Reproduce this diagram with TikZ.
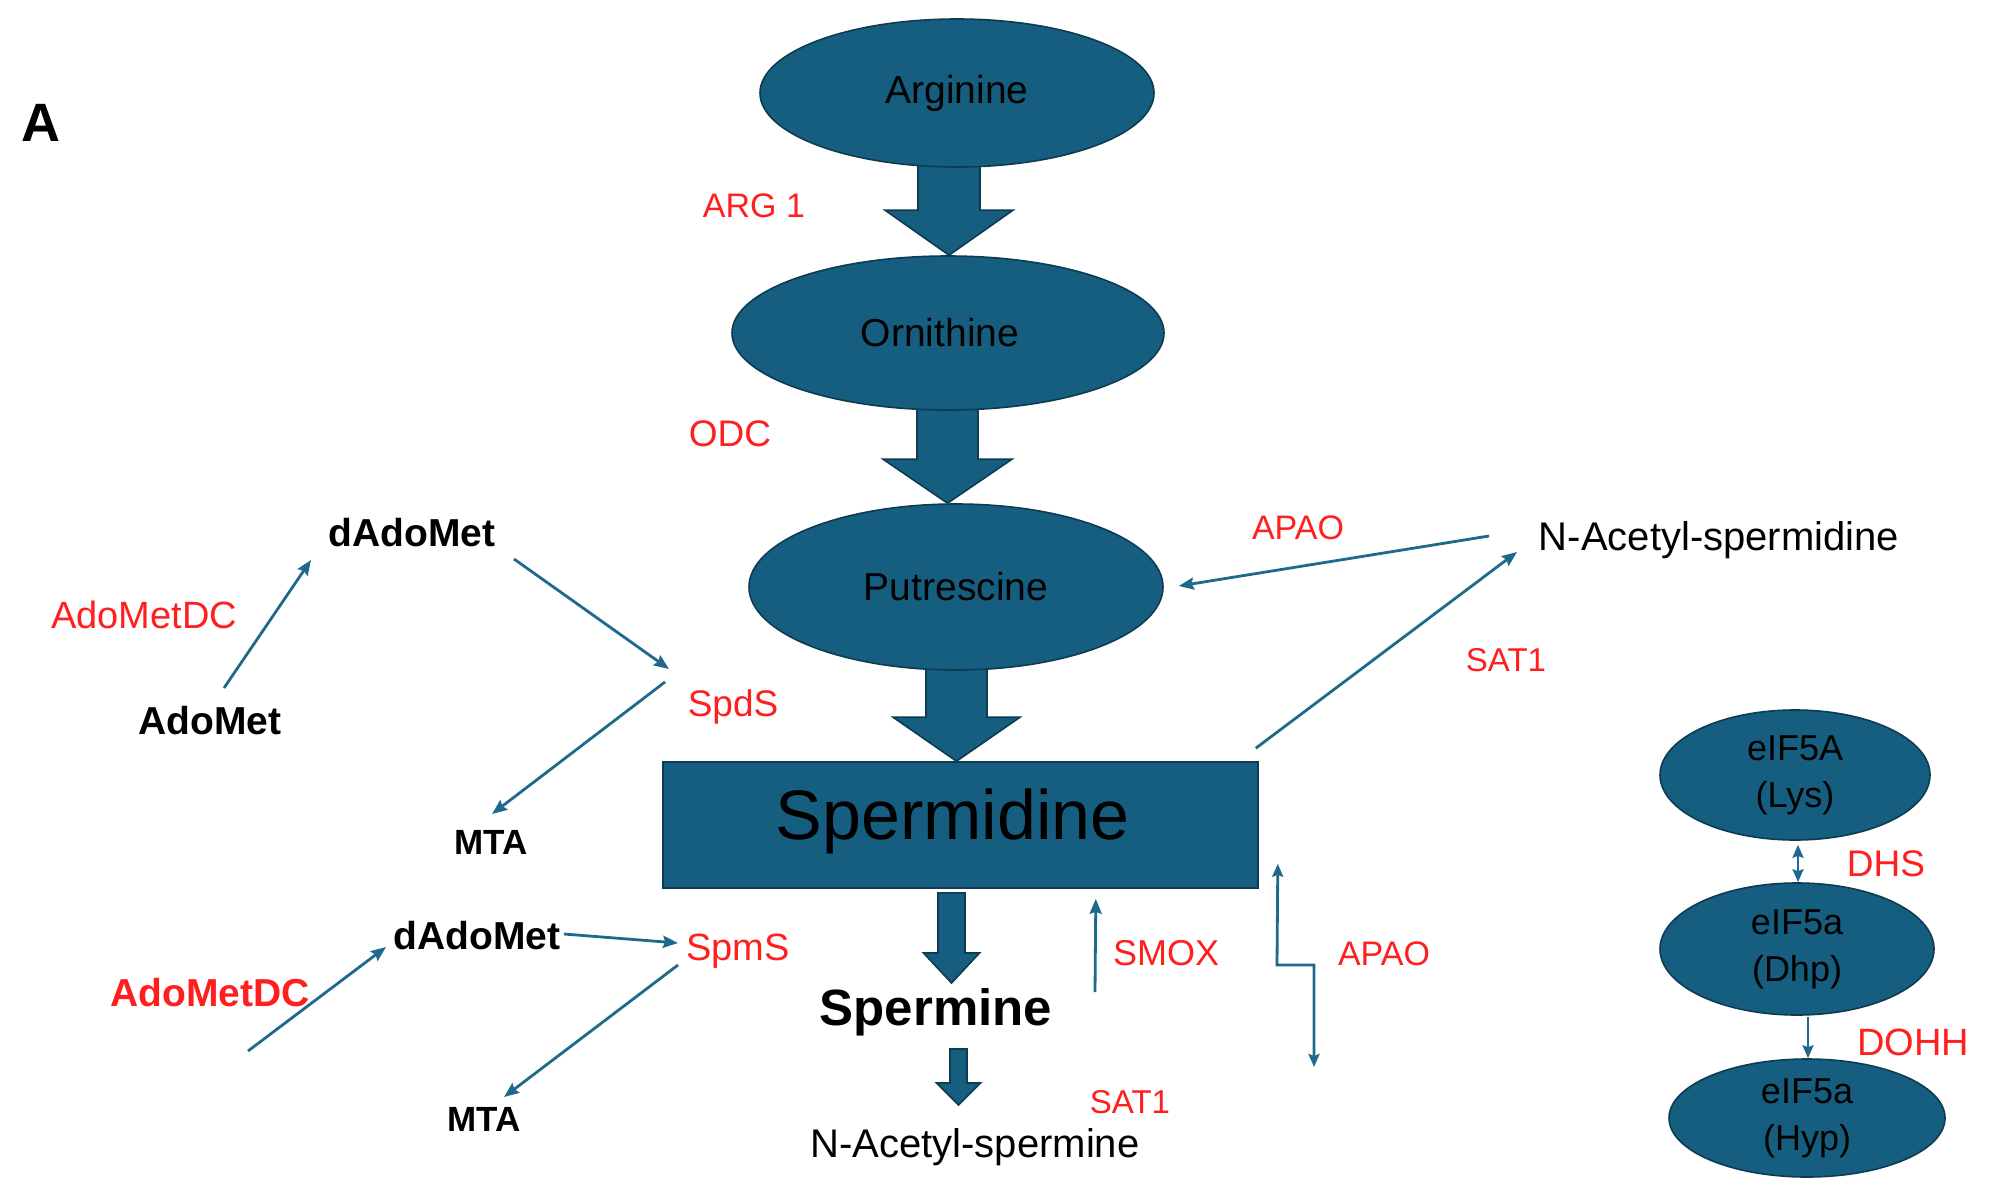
\documentclass[tikz,border=0pt]{standalone}
\usepackage{fontspec}
\setmainfont{Liberation Sans}
\usetikzlibrary{shapes.geometric,arrows.meta,calc}
\definecolor{mteal}{HTML}{165E80}
\definecolor{medge}{HTML}{0C3B52}
\definecolor{mline}{HTML}{1F6A8C}
\definecolor{mred}{HTML}{FF1F1F}
\pgfdeclarelayer{bg}
\pgfsetlayers{bg,main}
\newcommand{\myfs}[1]{\fontsize{#1}{#1}\selectfont}
\newcommand{\blkarrow}[6]{%
  \draw[blk] let \p1=#2, \p2=#3 in
    ({(#1-#4)*1pt},\y1) -- ({(#1-#4)*1pt},{\y2+#6*1pt})
    -- ({(#1-#5)*1pt},{\y2+#6*1pt}) -- ({#1*1pt},\y2)
    -- ({(#1+#5)*1pt},{\y2+#6*1pt}) -- ({(#1+#4)*1pt},{\y2+#6*1pt})
    -- ({(#1+#4)*1pt},\y1) -- cycle;}
\begin{document}
\begin{tikzpicture}[x=1pt,y=-1pt,
  ell/.style={ellipse, draw=medge, line width=1.6pt, fill=mteal, inner sep=0pt, text=black, font=\myfs{39}},
  eiftext/.style={font=\fontsize{36}{47}\selectfont, align=center},
  blk/.style={draw=medge, line width=1.6pt, fill=mteal, line join=miter},
  con/.style={draw=mline, line width=2.8pt},
  conarr/.style={con, -{Stealth[length=15pt,width=12pt,inset=2pt]}},
  conboth/.style={con, {Stealth[length=13pt,width=11pt,inset=2pt]}-{Stealth[length=13pt,width=11pt,inset=2pt]}},
  txt/.style={inner sep=0pt, font=\myfs{#1}, text height={#1*0.72pt}, text depth=0pt},
  rlab/.style={txt=#1, text=mred},
  blab/.style={txt=#1, font=\myfs{#1}\bfseries},
  nlab/.style={txt=#1, text=black}
]
\begin{pgfonlayer}{bg}
\fill[white] (0,0) rectangle (1991,1199);
\end{pgfonlayer}
\useasboundingbox (0,0) rectangle (1991,1199);

% panel label
\node[blab=54] (lblA) at (41,122) {A};

% main pathway
\node[ell, minimum width=394pt, minimum height=148pt] (arg) at (957,93) {Arginine};
\node[ell, minimum width=432pt, minimum height=154pt] (orn) at (948,333) {Ornithine\hspace*{16pt}};
\node[ell, minimum width=414pt, minimum height=166pt] (put) at (956,587) {Putrescine};
\node[draw=medge, line width=1.6pt, fill=mteal, minimum width=595pt, minimum height=126pt,
      inner sep=0pt, font=\myfs{70}, text height=50pt, text depth=22pt] (spd) at (960.5,825) {Spermidine\hspace*{16pt}};
\node[blab=51] (spm) at (936,1007) {Spermine};
\node[nlab=40] (nacspm) at (975,1143) {N-Acetyl-spermine};
\node[nlab=40] (nacspd) at (1719,536) {N-Acetyl-spermidine};

% enzyme labels
\node[rlab=34] (arg1) at (754,205) {ARG 1};
\node[rlab=37] (odc) at (730,433) {ODC};
\node[rlab=34] (apao1) at (1298,527) {APAO};
\node[rlab=33] (sat1a) at (1506,660) {SAT1};
\node[rlab=37] (spds) at (733,703) {SpdS};
\node[rlab=38] (spms) at (738,947) {SpmS};
\node[rlab=36] (smox) at (1166,953) {SMOX};
\node[rlab=34] (apao2) at (1384,953) {APAO};
\node[rlab=33] (sat1b) at (1130,1102) {SAT1};
\node[rlab=38] (adometdc1) at (144,615) {AdoMetDC};
\node[blab=39, text=mred] (adometdc2) at (210,992) {AdoMetDC};

% side metabolites
\node[blab=39] (dado1) at (412,532) {dAdoMet};
\node[blab=39] (adomet) at (210,720) {AdoMet};
\node[blab=35] (mta1) at (491,842) {MTA};
\node[blab=39] (dado2) at (477,935) {dAdoMet};
\node[blab=35] (mta2) at (484,1119) {MTA};

% eIF5A
\node[ell, eiftext, minimum width=270pt, minimum height=130pt] (eif1) at (1795,775) {eIF5A\\(Lys)};
\node[ell, eiftext, minimum width=274pt, minimum height=132pt] (eif2) at (1797,949) {eIF5a\\(Dhp)};
\node[ell, eiftext, minimum width=276pt, minimum height=118pt] (eif3) at (1807,1118) {eIF5a\\(Hyp)};
\node[rlab=37] (dhs) at (1886,863) {DHS};
\node[rlab=38] (dohh) at (1913,1042) {DOHH};

% block arrows
\begin{pgfonlayer}{bg}
\blkarrow{949}{($(arg.south)+(0,-10)$)}{(orn.north)}{31}{64}{45}
\blkarrow{947.5}{($(orn.south)+(0,-10)$)}{(put.north)}{30.5}{64.5}{44}
\blkarrow{956.5}{($(put.south)+(0,-10)$)}{(spd.north)}{30.5}{63.5}{44}
\end{pgfonlayer}
\blkarrow{951.5}{($(spd.south)+(0,4)$)}{($(spm.center)+(0,-24)$)}{13.5}{28}{30}
\blkarrow{958.5}{($(spm.center)+(0,42)$)}{($(nacspm.center)+(0,-38)$)}{8.5}{22}{22}

% free ends
\coordinate (dcstart) at (248,1051);
\coordinate (smoxstart) at (1095,992);
\coordinate (apaolow) at (1314,1067);

% thin connectors
\draw[conarr] ($(adomet.center)+(14,-32)$) -- ($(dado1.center)+(-101,28)$);
\draw[conarr] ($(dado1.center)+(102,27)$) -- ($(spds.center)+(-64,-34)$);
\draw[conarr] ($(spds.center)+(-68,-21)$) -- ($(mta1.center)+(1,-28)$);
\draw[conarr] (dcstart) -- ($(dado2.center)+(-91,12)$);
\draw[conarr] ($(dado2.center)+(87,-1)$) -- ($(spms.center)+(-60,-4)$);
\draw[conarr] ($(spms.center)+(-60,18)$) -- ($(mta2.center)+(20,-22)$);
\draw[conarr] ($(nacspd.center)+(-230,0)$) -- ($(put.east)+(15,-1)$);
\draw[conarr] ($(spd.north east)+(-3,-13)$) -- ($(nacspd.center)+(-202,16)$);
\draw[conarr] (smoxstart) -- ($(spd.south east)+(-163,10)$);
\draw[conboth] (apaolow) -- ++(0,-102) -- ++(-37,0) -- ($(spd.south east)+(19,-25)$);
\draw[conboth, line width=2.5pt] ($(eif1.south)+(3,4)$) -- ($(eif2.north)+(1,0)$);
\draw[con, line width=2.5pt, -{Stealth[length=13pt,width=11pt,inset=2pt]}] ($(eif2.south)+(11,1)$) -- ($(eif3.north)+(1,0)$);
\end{tikzpicture}
\end{document}
